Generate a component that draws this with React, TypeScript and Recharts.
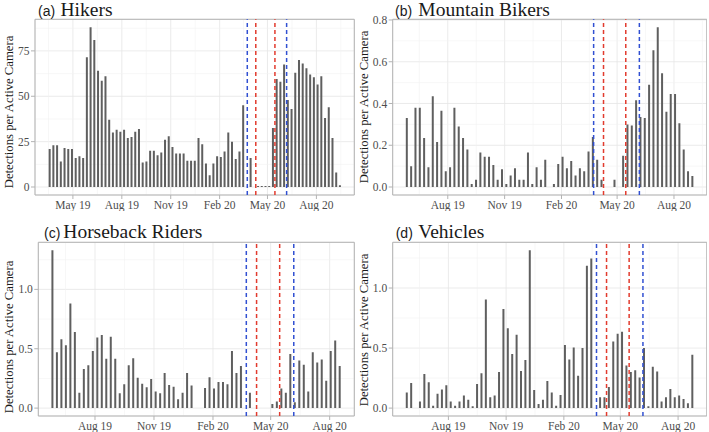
import React from "react";
import { BarChart, Bar, XAxis, YAxis, CartesianGrid, ReferenceLine, ReferenceArea } from "recharts";

// x values are days since 1 Jan 2019; survey weeks start on 18 Mar 2019
const FIRST_WEEK = 76;

const monthTicks = [120, 212, 304, 396, 486, 578];
const monthLabels = ["May 19", "Aug 19", "Nov 19", "Feb 20", "May 20", "Aug 20"];
const minorMonths = [74, 166, 258, 350, 441, 532, 624];

// closure / reopening dates (24 Mar, 9 Apr, 15 May, 6 Jun 2020)
const blueLines = [448, 522];
const redLines = [464, 500];

const hikers = [
  21, 23, 23, 14, 21.5, 21, 21, 16, 17, 16,
  71.5, 88, 81, 64, 58.5, 61, 37, 30, 31.5, 30.5,
  31.5, 27, 27.5, 30.5, 32, 13.5, 14, 20, 20, 17.5,
  19, 26, 28, 22, 18.5, 18.5, 18.5, 14.5, 14.5, 14.5,
  27, 23.5, 13, 6.5, 13, 17, 16.5, 19.5, 30, 25,
  15.5, 19.5, 45, null, 16, null, 0.6, 0.6, 0.6, 0.6,
  32.5, 59.5, 58, 67.5, 48, 43, 63, 70, 68, 65.5,
  62, 60.5, 56.5, 61, 38, 44, 27, 8, 1,
];
const bikers = [
  0.33, 0.1, 0.38, 0.38, 0.235, 0.095, 0.435, 0.215, 0.365, 0.075,
  0.095, 0.38, 0.29, 0.235, 0.18, 0.015, 0.035, 0.165, 0.145, 0.145,
  0.105, 0.035, 0.085, 0.015, 0.055, 0.09, 0.035, 0.035, 0.165, 0.015,
  0.095, 0.035, 0.13, null, 0.015, 0.11, 0.145, 0.09, 0.125, 0.055,
  0.09, 0.075, 0.17, 0.24, 0.13, 0.035, null, null, 0.035, null,
  0.15, 0.3, 0.295, 0.415, 0.335, 0.33, 0.49, 0.655, 0.765, 0.545,
  0.36, 0.445, 0.445, 0.305, 0.18, 0.075, 0.053,
];
const horses = [
  1.33, 0.47, 0.58, 0.53, 0.88, 0.64, 0.13, 0.33, 0.36, 0.48,
  0.595, 0.615, 0.415, 0.6, 0.415, 0.125, 0.2, 0.36, 0.42, 0.255,
  0.205, 0.175, 0.245, 0.14, 0.125, 0.295, 0.195, 0.18, 0.075, 0.13,
  0.295, 0.19, null, null, 0.17, 0.26, 0.165, 0.22, 0.22, 0.2,
  0.48, 0.295, 0.355, null, 0.13, null, null, null, null, 0.035,
  0.055, 0.165, 0.13, 0.455, 0.05, 0.4, 0.365, 0.14, 0.47, 0.385,
  0.41, 0.23, 0.48, 0.57, 0.355,
];
const vehicles = [
  0.13, 0.21, null, 0.055, 0.285, 0.215, 0.02, 0.12, 0.155, 0.19,
  0.055, 0.02, 0.055, 0.105, 0.07, 0.015, 0.2, 0.29, 0.905, 0.09,
  0.105, 0.3, 0.825, 0.665, 0.45, 0.61, 0.31, 0.4, 1.315, 0.15,
  0.035, 0.07, 0.225, 0.13, 0.02, 0.11, 0.525, 0.405, 0.505, 0.27,
  0.5, 1.185, 1.245, null, 0.09, 0.09, 0.175, 0.555, 0.62, 0.635,
  0.355, 0.3, 0.315, 0.255, 0.5, 0.015, 0.345, 0.305, 0.055, 0.09,
  0.16, 0.09, 0.105, 0.075, 0.04, 0.445,
];

const countTicks = [0, 25, 50, 75];
const countMinor = [12.5, 37.5, 62.5, 87.5];
const bikeTicks = [0, 0.2, 0.4, 0.6, 0.8];
const bikeMinor = [0.1, 0.3, 0.5, 0.7];
const rateTicks = [0, 0.5, 1.0];
const rateMinor = [0.25, 0.75, 1.25];

const SERIF = "'Liberation Serif', 'Times New Roman', serif";
const SANS = "'Liberation Sans', Arial, sans-serif";
const tickStyle = { fontFamily: SERIF, fontSize: 11.5, fill: "#4d4d4d" };

type PanelProps = {
  values: (number | null)[];
  startWeek: number;
  yTicks: number[];
  yMinor: number[];
  digits: number;
  left: number;
  top: number;
  width: number;
  height: number;
  marginTop: number;
  marginRight: number;
  yWidth: number;
};

function Panel(p: PanelProps) {
  const data = p.values.map((v, k) => ({ day: FIRST_WEEK + 7 * (p.startWeek + k), v }));
  const first = data[0].day;
  const last = data[data.length - 1].day;
  const pad = (last - first) * 0.05;
  const xDomain: [number, number] = [first - pad, last + pad];
  const peak = Math.max(...(p.values.filter((v) => v !== null) as number[]));
  const yDomain: [number, number] = [-peak * 0.05, peak * 1.05];
  const xTicks = monthTicks.filter((t) => t >= xDomain[0] && t <= xDomain[1]);

  return (
    <div style={{ position: "absolute", left: p.left, top: p.top }}>
      <BarChart
        width={p.width}
        height={p.height}
        data={data}
        margin={{ top: p.marginTop, right: p.marginRight, bottom: 0, left: 0 }}
      >
        <CartesianGrid stroke="#e6e6e6" strokeWidth={0.8} />
        {minorMonths.map((d) => (
          <ReferenceLine key={"mx" + d} x={d} stroke="#f1f1f1" strokeWidth={0.6} zIndex={-90} />
        ))}
        {p.yMinor.map((v) => (
          <ReferenceLine key={"my" + v} y={v} stroke="#f1f1f1" strokeWidth={0.6} zIndex={-90} />
        ))}
        <XAxis
          type="number"
          dataKey="day"
          domain={xDomain}
          ticks={xTicks}
          allowDataOverflow
          interval={0}
          tickFormatter={(t) => monthLabels[monthTicks.indexOf(t)]}
          tick={tickStyle}
          tickLine={{ stroke: "#b3b3b3" }}
          tickSize={4}
          tickMargin={1.5}
          axisLine={false}
          height={16}
        />
        <YAxis
          type="number"
          domain={yDomain}
          ticks={p.yTicks}
          allowDataOverflow
          interval={0}
          tickFormatter={(t) => Number(t).toFixed(p.digits)}
          tick={tickStyle}
          tickLine={{ stroke: "#b3b3b3" }}
          tickSize={4}
          tickMargin={1.5}
          axisLine={false}
          width={p.yWidth}
        />
        <Bar dataKey="v" fill="#5f5f5f" barSize={2} isAnimationActive={false} />
        {redLines.map((d) => (
          <ReferenceLine key={"r" + d} x={d} stroke="#e23b2e" strokeWidth={1.5} strokeDasharray="4 3" />
        ))}
        {blueLines.map((d) => (
          <ReferenceLine key={"b" + d} x={d} stroke="#3150d2" strokeWidth={1.5} strokeDasharray="4 3" />
        ))}
        <ReferenceArea
          x1={xDomain[0]}
          x2={xDomain[1]}
          y1={yDomain[0]}
          y2={yDomain[1]}
          fill="none"
          stroke="#b3b3b3"
          strokeWidth={1}
        />
      </BarChart>
    </div>
  );
}

const titles = [
  { tag: "(a)", name: "Hikers", tagX: 38, nameX: 60.5, y: 15.7 },
  { tag: "(b)", name: "Mountain Bikers", tagX: 395, nameX: 418.3, y: 15.7 },
  { tag: "(c)", name: "Horseback Riders", tagX: 44, nameX: 63.3, y: 238 },
  { tag: "(d)", name: "Vehicles", tagX: 395.7, nameX: 418.3, y: 238 },
];
const yLabelCenters = [
  [8.5, 112], [363.5, 107], [8.5, 337], [363.5, 330],
];

export default function App() {
  return (
    <div style={{ position: "absolute", left: 0, top: 0, width: 709, height: 432, overflow: "hidden", background: "#fff" }}>
      <Panel values={hikers} startWeek={0} yTicks={countTicks} yMinor={countMinor} digits={0}
        left={0} top={0} width={356} height={211} marginTop={19.3} marginRight={1.7} yWidth={35} />
      <Panel values={bikers} startWeek={10} yTicks={bikeTicks} yMinor={bikeMinor} digits={1}
        left={355} top={0} width={352} height={211} marginTop={19.3} marginRight={0.2} yWidth={37.7} />
      <Panel values={horses} startWeek={10} yTicks={rateTicks} yMinor={rateMinor} digits={1}
        left={0} top={222} width={356} height={210} marginTop={20.3} marginRight={1.7} yWidth={38.3} />
      <Panel values={vehicles} startWeek={10} yTicks={rateTicks} yMinor={rateMinor} digits={1}
        left={355} top={222} width={352} height={210} marginTop={20.3} marginRight={0.2} yWidth={37.7} />
      <svg width={709} height={432} style={{ position: "absolute", left: 0, top: 0, pointerEvents: "none" }}>
        {titles.map((t) => (
          <g key={t.tag}>
            <text x={t.tagX} y={t.y} fontFamily={SANS} fontSize={14} fill="#1a1a1a">{t.tag}</text>
            <text x={t.nameX} y={t.y} fontFamily={SERIF} fontSize={19.5} fill="#1a1a1a">{t.name}</text>
          </g>
        ))}
        {yLabelCenters.map(([cx, cy], i) => (
          <text
            key={i}
            transform={`translate(${cx},${cy}) rotate(-90)`}
            textAnchor="middle"
            dominantBaseline="central"
            fontFamily={SERIF}
            fontSize={12.7}
            fill="#1a1a1a"
          >
            Detections per Active Camera
          </text>
        ))}
      </svg>
    </div>
  );
}
